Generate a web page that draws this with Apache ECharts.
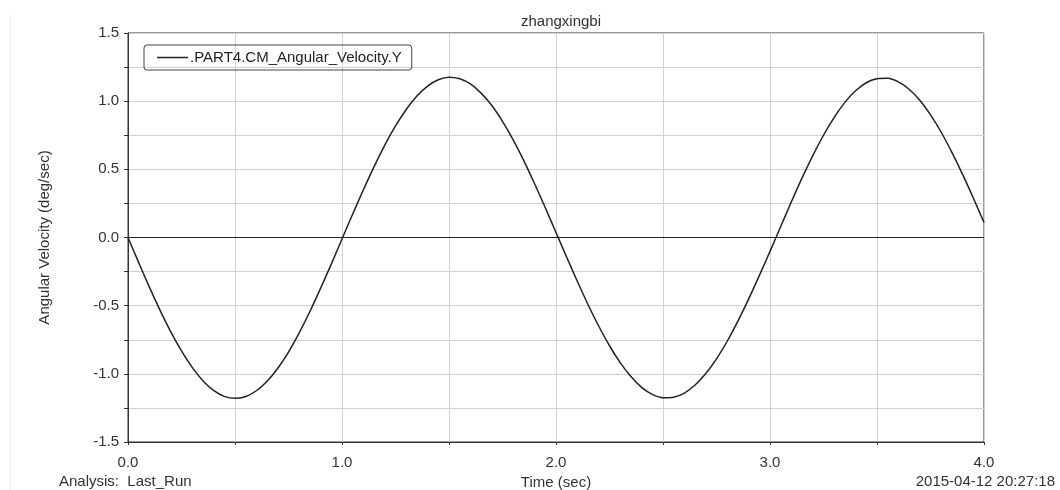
<!DOCTYPE html>
<html>
<head>
<meta charset="utf-8">
<script src="https://cdn.jsdelivr.net/npm/echarts@6/dist/echarts.min.js"></script>
<style>
    html, body { margin: 0; padding: 0; background: #fff; }
    #chart { width: 1060px; height: 490px; }
</style>
</head>
<body>
<div id="chart"></div>
<script>
// time (sec) and angular velocity (deg/sec)
var times = [
    0.00, 0.05, 0.10, 0.15, 0.20, 0.25, 0.30, 0.35, 0.40, 0.45,
    0.50, 0.55, 0.60, 0.65, 0.70, 0.75, 0.80, 0.85, 0.90, 0.95,
    1.00, 1.05, 1.10, 1.15, 1.20, 1.25, 1.30, 1.35, 1.40, 1.45,
    1.50, 1.55, 1.60, 1.65, 1.70, 1.75, 1.80, 1.85, 1.90, 1.95,
    2.00, 2.05, 2.10, 2.15, 2.20, 2.25, 2.30, 2.35, 2.40, 2.45,
    2.50, 2.55, 2.60, 2.65, 2.70, 2.75, 2.80, 2.85, 2.90, 2.95,
    3.00, 3.05, 3.10, 3.15, 3.20, 3.25, 3.30, 3.35, 3.40, 3.45,
    3.50, 3.55, 3.60, 3.65, 3.70, 3.75, 3.80, 3.85, 3.90, 3.95,
    4.00];
var velocityY = [
    0.000, -0.184, -0.364, -0.534, -0.692, -0.832, -0.953, -1.050, -1.121, -1.165,
    -1.180, -1.166, -1.124, -1.055, -0.959, -0.840, -0.700, -0.543, -0.372, -0.195,
    -0.011, 0.172, 0.350, 0.520, 0.678, 0.818, 0.939, 1.038, 1.111, 1.157,
    1.175, 1.164, 1.126, 1.059, 0.968, 0.852, 0.716, 0.562, 0.394, 0.218,
    0.037, -0.145, -0.323, -0.493, -0.651, -0.794, -0.918, -1.020, -1.099, -1.151,
    -1.175, -1.171, -1.141, -1.082, -0.998, -0.890, -0.761, -0.613, -0.452, -0.280,
    -0.102, 0.081, 0.262, 0.437, 0.601, 0.750, 0.881, 0.991, 1.076, 1.135,
    1.165, 1.168, 1.141, 1.087, 1.006, 0.899, 0.772, 0.625, 0.463, 0.290,
    0.110];
var seriesName = '.PART4.CM_Angular_Velocity.Y';
var xTicks = { min: 0, max: 4, interval: 0.5 };
var yTicks = { min: -1.5, max: 1.5, interval: 0.25 };

var myChart = echarts.init(document.getElementById('chart'));
var FONT = 'Liberation Sans, Arial, sans-serif';
var TEXT_COLOR = '#333';

var points = times.map(function (t, i) { return [t, velocityY[i]]; });

var option = {
    animation: false,
    textStyle: { fontFamily: FONT },
    title: {
        text: 'zhangxingbi',
        left: 556,
        top: 9,
        textAlign: 'center',
        textStyle: { fontFamily: FONT, fontSize: 15, fontWeight: 'normal', color: TEXT_COLOR }
    },
    legend: {
        data: [seriesName],
        left: 144,
        top: 45,
        icon: 'rect',
        itemWidth: 31,
        itemHeight: 1.5,
        padding: [5, 10, 5, 13],
        borderColor: '#444',
        borderWidth: 1,
        borderRadius: 3,
        textStyle: { fontFamily: FONT, fontSize: 15, color: '#222', padding: [0, 0, 0, -3] }
    },
    grid: {
        left: 128,
        right: 76,
        top: 33,
        bottom: 48,
        containLabel: false,
        outerBoundsMode: 'none',
        show: true,
        borderColor: '#333',
        borderWidth: 1
    },
    xAxis: {
        type: 'value',
        min: xTicks.min,
        max: xTicks.max,
        interval: xTicks.interval,
        name: 'Time (sec)',
        nameLocation: 'middle',
        nameGap: 33,
        nameTextStyle: { fontFamily: FONT, fontSize: 15, color: TEXT_COLOR },
        axisLine: { onZero: false, lineStyle: { color: '#333' } },
        axisTick: { show: true, length: 3, lineStyle: { color: '#333' } },
        axisLabel: {
            fontFamily: FONT, fontSize: 15, color: TEXT_COLOR, margin: 13,
            formatter: function (v) { return Math.abs(v - Math.round(v)) < 1e-6 ? v.toFixed(1) : ''; }
        },
        splitLine: { show: true, lineStyle: { color: '#d2d2d2', width: 1 } }
    },
    yAxis: {
        type: 'value',
        min: yTicks.min,
        max: yTicks.max,
        interval: yTicks.interval,
        name: 'Angular Velocity (deg/sec)',
        nameLocation: 'middle',
        nameGap: 76,
        nameTextStyle: { fontFamily: FONT, fontSize: 15, color: TEXT_COLOR },
        axisLine: { show: true, onZero: false, lineStyle: { color: '#333' } },
        axisTick: { show: true, length: 4, lineStyle: { color: '#333' } },
        axisLabel: {
            fontFamily: FONT, fontSize: 15, color: TEXT_COLOR, margin: 9,
            formatter: function (v) {
                var h = v * 2;
                return Math.abs(h - Math.round(h)) < 1e-6 ? v.toFixed(1) : '';
            }
        },
        splitLine: { show: true, lineStyle: { color: '#d2d2d2', width: 1 } }
    },
    series: [
        {
            name: seriesName,
            type: 'line',
            data: points,
            smooth: 0.3,
            symbol: 'none',
            lineStyle: { color: '#222', width: 1.5 },
            itemStyle: { color: '#222' },
            markLine: {
                silent: true,
                symbol: 'none',
                label: { show: false },
                lineStyle: { color: '#222', width: 1, type: 'solid' },
                data: [{ yAxis: 0 }]
            }
        }
    ],
    graphic: [
        {
            type: 'line',
            shape: { x1: 10.5, y1: 14, x2: 10.5, y2: 490 },
            style: { stroke: '#e4ecf4', lineWidth: 1 }
        },
        {
            type: 'text',
            left: 59,
            top: 474,
            style: { text: 'Analysis:  Last_Run', font: '15px ' + FONT, fill: TEXT_COLOR }
        },
        {
            type: 'text',
            right: 5,
            top: 474,
            style: { text: '2015-04-12 20:27:18', font: '15px ' + FONT, fill: TEXT_COLOR }
        }
    ]
};

myChart.setOption(option);
</script>
</body>
</html>
